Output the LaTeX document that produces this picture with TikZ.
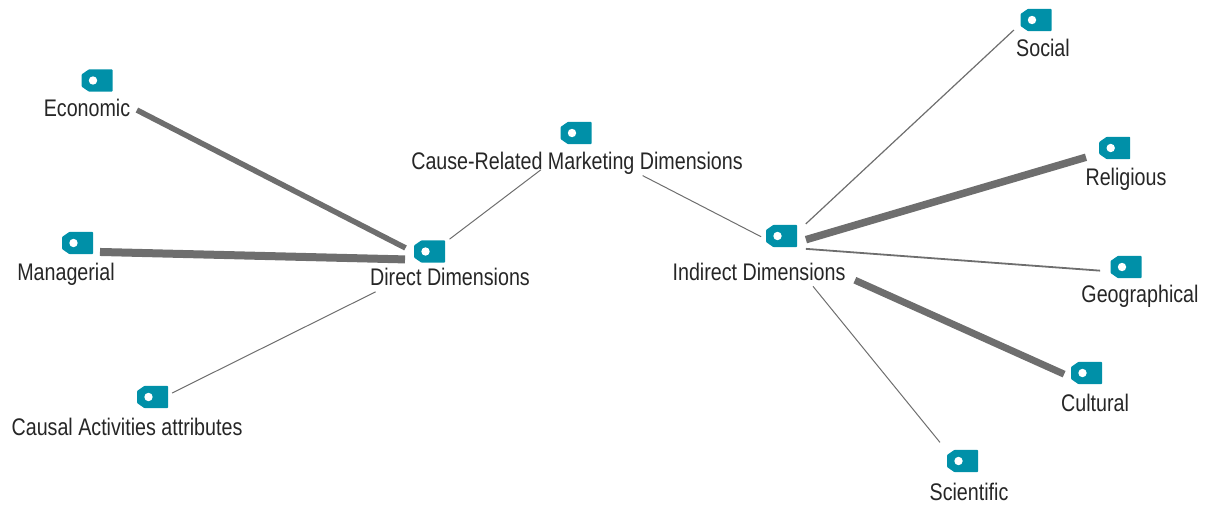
\documentclass[tikz,border=0pt]{standalone}
\usepackage{fontspec}
\setmainfont[FakeStretch=0.82]{Liberation Sans}
\definecolor{tagblue}{HTML}{0090A8}
\definecolor{linkgrey}{HTML}{6E6E6E}
\tikzset{
	hubpoint/.style={inner sep=0pt, minimum width=7.5pt, minimum height=7.5pt},
	conceptlabel/.style={inner sep=0pt, text=black!85, text height=12.4pt, text depth=0pt, font=\fontsize{18}{20}\selectfont},
	tagmark/.pic={
		\fill[tagblue, rounded corners=0.6pt] (-15.5,-6) -- (-8,-11.2) -- (15.5,-11.2) -- (15.5,11.2) -- (-8,11.2) -- (-15.5,6) -- cycle;
		\fill[white] (-4,0) circle (4.2);
	}
}
\def\concept(#1)(#2)(#3)(#4)#5{
	\node[hubpoint] (#1) at (#2) {};
	\pic at (#3) {tagmark};
	\node[conceptlabel] (#1text) at (#4) {#5};
}
\def\linkline[#1](#2)(#3)(#4:#5){\draw[linkgrey, line width=#1*0.75pt, shorten <=#4*0.75pt, shorten >=#5*0.75pt] (#2) -- (#3);}

\begin{document}
\begin{tikzpicture}[x=0.75pt, y=-0.75pt]
	\useasboundingbox (0, 0) rectangle (1209, 504);

	%%%%% concepts %%%%%
	\concept(cause)(577.5, 142)(576, 133)(577, 161){Cause-Related Marketing Dimensions}
	\concept(direct)(429, 260)(429.5, 251.5)(450, 277){Direct Dimensions}
	\concept(indirect)(781, 247)(781.5, 236)(759, 272){Indirect Dimensions}

	\concept(economic)(92, 87)(97, 80.5)(87, 108){Economic}
	\concept(managerial)(77, 251.4)(77.5, 243)(66, 272){Managerial}
	\concept(causal)(152, 403)(152.5, 397)(127, 427){Causal Activities attributes}

	\concept(social)(1030, 15)(1036, 20)(1043, 48){Social}
	\concept(religious)(1114, 149)(1114.7, 148)(1126, 177){Religious}
	\concept(geographical)(1125, 272.5)(1126, 267)(1140, 294){Geographical}
	\concept(cultural)(1086, 384)(1086.5, 373)(1095, 403){Cultural}
	\concept(scientific)(960, 467)(962.5, 461)(969, 492){Scientific}

	%%%%% links %%%%%
	\linkline[1](cause.center)(direct.north)(46:25.8)
	\linkline[1](cause.center)(indirect.center)(73.3:22.4)

	\linkline[5.5](economic.center)(direct.center)(50.5:26.4)
	\linkline[8](managerial.center)(direct.center)(23:24)
	\linkline[1](causal.center)(direct.south)(22.4:59.7)

	\linkline[1.2](indirect.center)(social.center)(33.9:22)
	\linkline[7.5](indirect.center)(religious.center)(26:29.2)
	\linkline[1.8](indirect.center)(geographical.center)(25:25)
	\linkline[7](indirect.center)(cultural.center)(81:24)
	\linkline[1](indirect.center)(scientific.center)(50.7:31.7)
\end{tikzpicture}
\end{document}
